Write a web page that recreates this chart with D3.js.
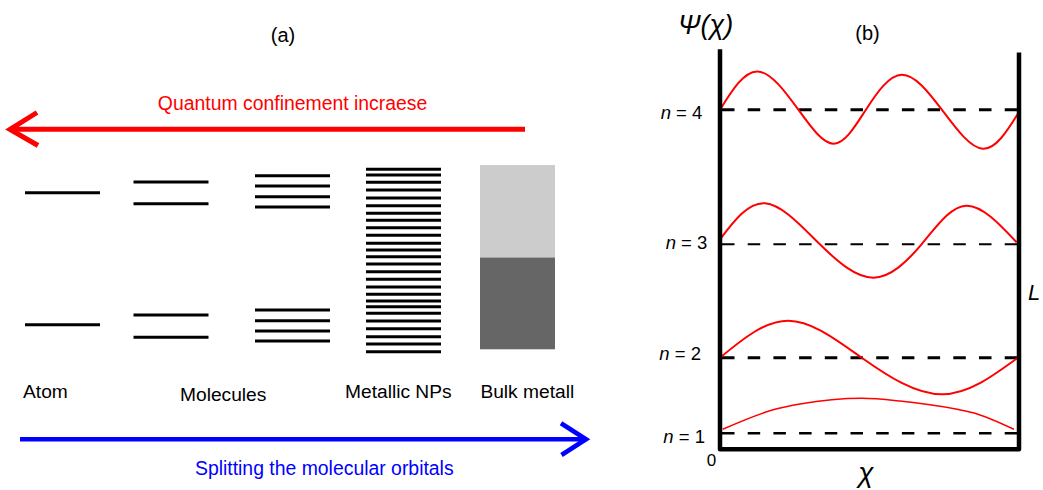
<!DOCTYPE html>
<html><head><meta charset="utf-8">
<script src="https://cdn.jsdelivr.net/npm/d3@7"></script>
<style>
body{margin:0;background:#fff}
svg{display:block}
text{font-family:"Liberation Sans", Arial, Helvetica, sans-serif}
</style>
</head><body>
<svg id="c" width="1043" height="490"></svg>
<script>
// ---------- Panel (a) data ----------
const groups = ["Atom", "Molecules-2", "Molecules-4", "Metallic NPs", "Bulk metall"];
const atomLevels = [167.3, 35.3];
const molecule2Levels = [178, 156.3, 45, 22.7];
const molecule4Levels = [184.3, 174, 163.3, 153, 50, 39.3, 29, 19];
const npLevels = [190.7, 185, 177.7, 170, 162, 154.3, 146.7, 139.7, 132.3, 124.7, 116.7, 110, 103.3,
                  96, 88.3, 80.7, 73, 65.7, 59, 53.3, 46.7, 39, 31.3, 23.3, 16, 8.3];
const bulkBands = [[102.5, 195], [10.7, 102.5]];   // [bottom, top] energy of upper / lower band
const categoryLabels = ["Atom", "Molecules", "Metallic NPs", "Bulk metall"];
const topArrowText = "Quantum confinement incraese";
const bottomArrowText = "Splitting the molecular orbitals";

// ---------- Panel (b) data ----------
const levelNumbers = [1, 2, 3, 4];
const levelEnergies = [16, 91.6, 205, 339.6];
// wavefunction samples: [x / L, displacement above its level]
const wave1 = [[0.009, 4], [0.184, 24], [0.268, 29.3], [0.475, 35], [0.602, 32.3], [0.793, 24], [0.846, 20.6], [0.983, 4]];
const wave2 = [[0, 0], [0.228, 37], [0.474, 0], [0.742, -36.6], [0.996, 0]];
const wave3 = [[0, 5], [0.151, 41], [0.334, 0], [0.513, -33.4], [0.674, 0], [0.823, 38.6], [0.992, 2]];
const wave4 = [[0, 0], [0.125, 38.3], [0.262, 0], [0.381, -34], [0.488, 0], [0.608, 35], [0.742, 0], [0.879, -39], [0.998, -3.3]];
const waves = [wave1, wave2, wave3, wave4];
const xTickLabels = ["0"];

// ---------- drawing ----------
const svg = d3.select("#c");
const RED = "#ff0000", BLUE = "#0000ff";

// Panel (a) scales
const xA = d3.scaleOrdinal().domain(groups).range([25, 133.5, 255, 366, 480]);
const levelWidth = 75;
const yA = d3.scaleLinear().domain([0, 200]).range([360, 160]);

svg.append("text").attr("x", 283).attr("y", 42).attr("text-anchor", "middle")
  .attr("font-size", 20).text("(a)");

// red arrow (left)
const gA = svg.append("g");
gA.append("line").attr("x1", 525).attr("x2", 10).attr("y1", 129.3).attr("y2", 129.3)
  .attr("stroke", RED).attr("stroke-width", 5);
gA.append("path").attr("d", "M37,112.5 L10,129.3 L38,145.5").attr("fill", "none")
  .attr("stroke", RED).attr("stroke-width", 5).attr("stroke-linejoin", "miter");
gA.append("text").attr("x", 292.6).attr("y", 110).attr("text-anchor", "middle")
  .attr("font-size", 19.4).attr("fill", RED).text(topArrowText);

// energy levels
const levelSets = [atomLevels, molecule2Levels, molecule4Levels, npLevels];
levelSets.forEach((lv, i) => {
  gA.selectAll(null).data(lv).enter().append("line")
    .attr("x1", xA(groups[i])).attr("x2", xA(groups[i]) + levelWidth)
    .attr("y1", d => yA(d)).attr("y2", d => yA(d))
    .attr("stroke", "#000").attr("stroke-width", 3);
});
// bulk bands
const bandColors = ["#cccccc", "#666666"];
gA.selectAll(null).data(bulkBands).enter().append("rect")
  .attr("x", xA(groups[4])).attr("width", levelWidth)
  .attr("y", d => yA(d[1])).attr("height", d => yA(d[0]) - yA(d[1]))
  .attr("fill", (d, i) => bandColors[i]);

// category labels
const labelLayout = [[23, 398], [180, 400.5], [345, 397.5], [480.4, 397.5]];
gA.selectAll(null).data(categoryLabels).enter().append("text")
  .attr("x", (d, i) => labelLayout[i][0]).attr("y", (d, i) => labelLayout[i][1])
  .attr("font-size", 19.2).attr("fill", "#000").text(d => d);

// blue arrow (right)
gA.append("line").attr("x1", 20).attr("x2", 585).attr("y1", 439.3).attr("y2", 439.3)
  .attr("stroke", BLUE).attr("stroke-width", 4.6);
gA.append("path").attr("d", "M561,423.3 L586,439.3 L561.5,455").attr("fill", "none")
  .attr("stroke", BLUE).attr("stroke-width", 4.6);
gA.append("text").attr("x", 324.3).attr("y", 474.5).attr("text-anchor", "middle")
  .attr("font-size", 19.4).attr("fill", BLUE).text(bottomArrowText);

// Panel (b) scales
const xB = d3.scaleLinear().domain([0, 1]).range([720, 1019]);
const yB = d3.scaleLinear().domain([0, 400]).range([449.3, 49.3]);
const gB = svg.append("g");

// dashed energy levels
const dashW = [2.6, 3, 2, 3];
gB.selectAll(null).data(levelEnergies).enter().append("line")
  .attr("x1", xB(0) + 2).attr("x2", xB(1) - 1)
  .attr("y1", d => yB(d)).attr("y2", d => yB(d))
  .attr("stroke", "#000").attr("stroke-width", (d, i) => dashW[i])
  .attr("stroke-dasharray", "12.5 13.2");

// wavefunctions
const waveCurves = [d3.curveMonotoneX, d3.curveNatural, d3.curveNatural, d3.curveNatural];
const waveW = [1.5, 2, 2, 2];
waves.forEach((w, i) => {
  const line = d3.line().x(d => xB(d[0])).y(d => yB(levelEnergies[i] + d[1])).curve(waveCurves[i]);
  gB.append("path")
    .attr("d", line(w))
    .attr("fill", "none").attr("stroke", RED).attr("stroke-width", waveW[i]);
});

// box walls
gB.append("path")
  .attr("d", `M${xB(0)},${yB(400)} V${yB(0)} H${xB(1)} V${yB(396.7)}`)
  .attr("fill", "none").attr("stroke", "#000").attr("stroke-width", 4.5)
  .attr("stroke-linejoin", "round");

// level labels
const nLabelLayout = [[705, 9.7], [701, 2.3], [707.3, 4.7], [702.3, 9.3]];
const nl = gB.selectAll(null).data(levelNumbers).enter().append("text")
  .attr("x", (d, i) => nLabelLayout[i][0])
  .attr("y", (d, i) => yB(levelEnergies[i]) + nLabelLayout[i][1])
  .attr("text-anchor", "end").attr("font-size", 18.5);
nl.append("tspan").attr("font-style", "italic").text("n");
nl.append("tspan").text(d => " = " + d);

// axis texts
gB.selectAll(null).data(xTickLabels).enter().append("text")
  .attr("x", xB(0) - 8.5).attr("y", 465.5).attr("text-anchor", "middle")
  .attr("font-size", 17).text(d => d);
gB.append("text").attr("x", 866).attr("y", 482).attr("text-anchor", "middle")
  .attr("font-size", 28).attr("font-style", "italic").text("χ");
gB.append("text").attr("x", 1028).attr("y", 300).attr("font-size", 22)
  .attr("font-style", "italic").text("L");
gB.append("text").attr("x", 678).attr("y", 34).attr("font-size", 27)
  .attr("font-style", "italic").text("Ψ(χ)");
gB.append("text").attr("x", 867.5).attr("y", 40).attr("text-anchor", "middle")
  .attr("font-size", 20).text("(b)");
</script>
</body></html>
